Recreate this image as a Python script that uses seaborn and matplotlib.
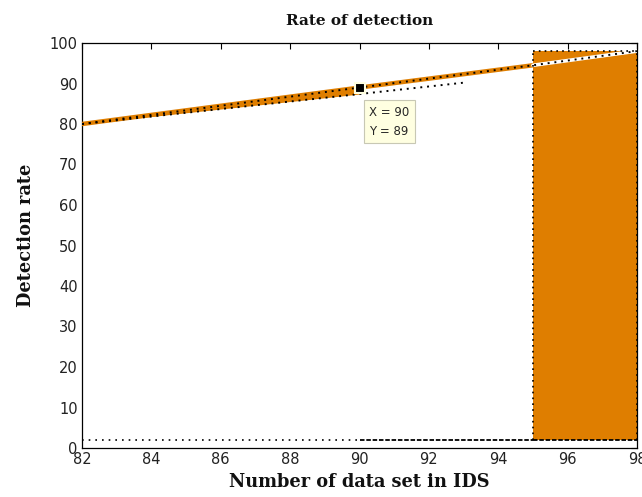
import matplotlib
matplotlib.use("Agg")
import matplotlib.pyplot as plt
import seaborn as sns
import pandas as pd

# Detection rate curves for the IDS data sets
x_upper = [82, 90, 95, 98]
y_upper = [80, 89, 94.5, 98]
x_lower = [82, 90, 93]
y_lower = [80, 87.4, 90.2]
x_base = [82, 90, 95, 98]
y_base = [2, 2, 2, 2]
# filled block over the last data sets
block_x = [95, 98]
block_y = [2, 98]
# data tip
tip_x, tip_y = 90, 89

xticks = [82, 84, 86, 88, 90, 92, 94, 96, 98]
yticks = [0, 10, 20, 30, 40, 50, 60, 70, 80, 90, 100]

orange = "#DF7E00"

sns.set_style("white")
fig = plt.figure(figsize=(6.42, 4.97), dpi=100)
ax = fig.add_axes([82 / 642, 49 / 497, 555 / 642, 405 / 497])

# orange band between the two curves up to the data tip
ax.fill_between(x_lower[:2], y_lower[:2], y_upper[:2], color=orange, lw=0, zorder=2)
# block on the right
ax.fill_between(block_x, [block_y[0]] * 2, [block_y[1]] * 2, color=orange, lw=0, zorder=2)

up = pd.DataFrame({"x": x_upper, "y": y_upper})
lo = pd.DataFrame({"x": x_lower, "y": y_lower})
base = pd.DataFrame({"x": x_base, "y": y_base})

# thick orange stroke along the upper curve, white where it crosses the block
sns.lineplot(data=up.iloc[:3], x="x", y="y", ax=ax, color=orange, lw=3.2, zorder=3)
sns.lineplot(data=up.iloc[2:], x="x", y="y", ax=ax, color="white", lw=2.6, zorder=3)

# dotted outlines
sns.lineplot(data=up, x="x", y="y", ax=ax, color="black", lw=1.4, ls=(0, (1, 2.5)), zorder=4)
sns.lineplot(data=lo, x="x", y="y", ax=ax, color="black", lw=1.4, ls=(0, (1, 2.5)), zorder=4)
sns.lineplot(data=base.iloc[:2], x="x", y="y", ax=ax, color="black", lw=1.2, ls=(0, (1, 3)), zorder=4)
sns.lineplot(data=base.iloc[1:3], x="x", y="y", ax=ax, color="black", lw=1.3, ls=(0, (2.5, 1)), zorder=4)
sns.lineplot(data=base.iloc[2:], x="x", y="y", ax=ax, color="black", lw=1.3, ls=(0, (2.5, 1)), zorder=4)
for bx in block_x:
    ax.plot([bx, bx], block_y, color="black", lw=1.2, ls=(0, (1, 2.5)), zorder=4)
ax.plot(block_x, [block_y[1]] * 2, color="black", lw=1.2, ls=(0, (1, 2.5)), zorder=4)

# data tip marker and label
ax.plot([tip_x], [tip_y], marker="s", ms=7, mfc="black", mec="#FFFFE1", mew=1.5, zorder=6)
ax.annotate(f"X = {tip_x}\nY = {tip_y}", xy=(tip_x, tip_y), xytext=(7, -13),
            textcoords="offset points", ha="left", va="top", fontsize=8.5,
            family="DejaVu Sans", linespacing=1.6, zorder=7,
            bbox=dict(boxstyle="square,pad=0.45", fc="#FFFFE1", ec="#C8C8B4", lw=0.8))

ax.set_xlim(82, 98)
ax.set_ylim(0, 100)
ax.set_xticks(xticks)
ax.set_yticks(yticks)
ax.tick_params(direction="in", length=4, width=0.8, top=True, right=True,
               labelsize=10.5, colors="black", labelcolor="#222222", pad=3)
for s in ax.spines.values():
    s.set_visible(True)
    s.set_color("black")
    s.set_linewidth(0.9)

label_font = dict(fontweight="bold", family="DejaVu Serif", color="#111111")
ax.set_title("Rate of detection", fontsize=11, pad=13, **label_font)
ax.set_xlabel("Number of data set in IDS", fontsize=12.8, labelpad=4.5, **label_font)
ax.set_ylabel("Detection rate", fontsize=12.8, **label_font)
ax.yaxis.set_label_coords(-0.085, 0.526)

fig.savefig("out.png", dpi=100)
